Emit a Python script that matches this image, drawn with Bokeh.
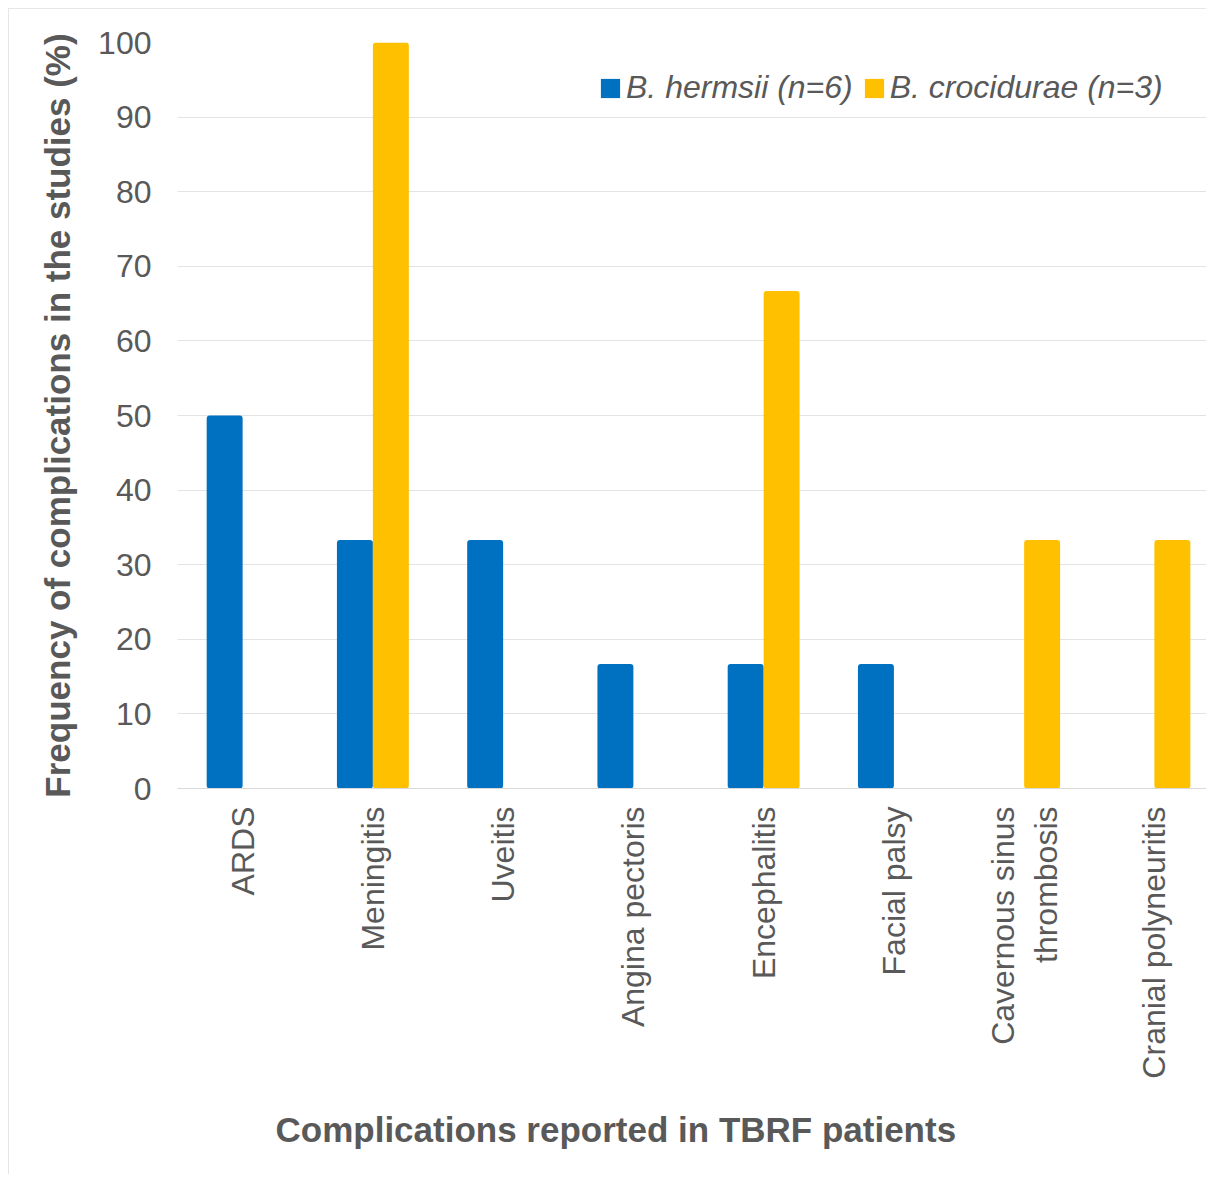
from bokeh.plotting import figure
from bokeh.models import Range1d, Legend, LegendItem, Title, SingleIntervalTicker, FixedTicker
from bokeh.embed import file_html
from bokeh.resources import INLINE

categories = ["ARDS", "Meningitis", "Uveitis", "Angina pectoris", "Encephalitis",
              "Facial palsy", "Cavernous sinus\nthrombosis", "Cranial polyneuritis"]
hermsii = [50.0, 33.3, 33.3, 16.7, 16.7, 16.7, 0.0, 0.0]
crocidurae = [0.0, 100.0, 0.0, 0.0, 66.7, 0.0, 33.3, 33.3]
series_names = ["B. hermsii (n=6)", "B. crocidurae (n=3)"]
x_title = "Complications reported in TBRF patients"
y_title = "Frequency of complications in the studies (%)"

BLUE = "#0070C0"
GOLD = "#FFC000"
GREY = "#595959"
FONT = "Liberation Sans"

centers = [i + 0.5 for i in range(len(categories))]
bw = 0.276

p = figure(x_range=Range1d(0, 7.9), y_range=(0, 100),
           width=1206, height=1174, output_backend="svg", toolbar_location=None,
           min_border_left=177, min_border_right=0, min_border_top=42, min_border_bottom=386)
p.border_fill_color = None
p.styles = {"box-shadow": "inset 8px 8px 0 0 #ffffff, inset 9px 9px 0 0 #E6E6E6"}

src = dict(xh=[c - bw / 2 for c in centers], xc=[c + bw / 2 for c in centers],
           h=hermsii, c=crocidurae)
r1 = p.vbar(x="xh", top="h", width=bw, source=src, fill_color=BLUE,
            line_color=None, border_radius=3)
r2 = p.vbar(x="xc", top="c", width=bw, source=src, fill_color=GOLD,
            line_color=None, border_radius=3)

p.outline_line_color = None
p.xgrid.grid_line_color = None
p.ygrid.grid_line_color = "#E3E3E3"
p.ygrid.grid_line_width = 1

p.yaxis.ticker = SingleIntervalTicker(interval=10)
p.yaxis.axis_line_color = None
p.yaxis.major_tick_line_color = None
p.yaxis.minor_tick_line_color = None
p.yaxis.major_label_text_font = FONT
p.yaxis.major_label_text_font_size = "32px"
p.yaxis.major_label_text_color = GREY
p.yaxis.major_label_standoff = 20
p.yaxis.axis_label = y_title
p.yaxis.axis_label_text_font = FONT
p.yaxis.axis_label_text_font_size = "35px"
p.yaxis.axis_label_text_font_style = "bold"
p.yaxis.axis_label_text_color = GREY
p.yaxis.axis_label_standoff = 18

p.xaxis.ticker = FixedTicker(ticks=centers, minor_ticks=[])
p.xaxis.major_label_overrides = {c: name for c, name in zip(centers, categories)}
p.xaxis.axis_line_color = "#D9D9D9"
p.xaxis.axis_line_width = 1
p.xaxis.major_tick_line_color = None
p.xaxis.minor_tick_line_color = None
p.xaxis.major_label_orientation = 1.5707963267948966
p.xaxis.major_label_text_font = FONT
p.xaxis.major_label_text_font_size = "32px"
p.xaxis.major_label_text_color = GREY
p.xaxis.major_label_standoff = 12

xt = Title(text=x_title, align="left", offset=98,
           text_font=FONT, text_font_size="35px", text_font_style="bold",
           text_color=GREY, standoff=52)
p.add_layout(xt, "below")

legend = Legend(items=[LegendItem(label=series_names[0], renderers=[r1]),
                       LegendItem(label=series_names[1], renderers=[r2])],
                orientation="horizontal", location=(421, 682))
legend.label_text_font = FONT
legend.label_text_font_size = "32px"
legend.label_text_font_style = "italic"
legend.label_text_color = GREY
legend.glyph_width = 24
legend.glyph_height = 24
legend.label_standoff = 4
legend.spacing = 9
legend.padding = 0
legend.margin = 0
legend.border_line_color = None
legend.background_fill_alpha = 0
p.add_layout(legend)

open("out.html", "w").write(file_html(p, INLINE))
